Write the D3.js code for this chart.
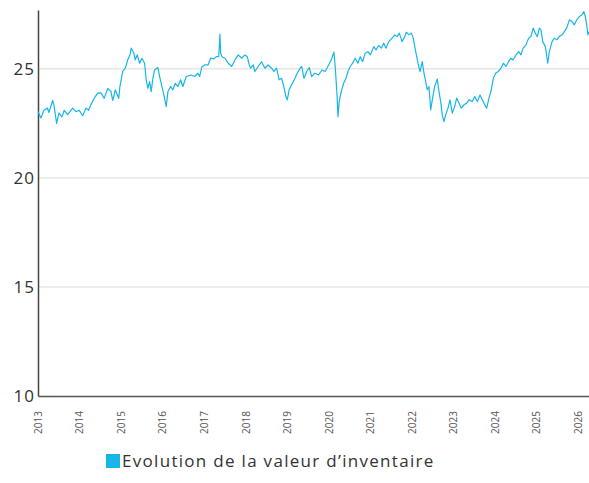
<!DOCTYPE html>
<html>
<head>
<meta charset="utf-8">
<script src="https://cdn.jsdelivr.net/npm/d3@7"></script>
<style>
  body { margin: 0; background: #fff; }
  text { font-family: "Open Sans", sans-serif; }
</style>
</head>
<body>
<script>
/* data */
var dates = [
  "2013-01-01","2013-01-27","2013-02-22","2013-03-26","2013-04-07","2013-05-10","2013-05-21","2013-06-14",
  "2013-07-04","2013-07-31","2013-08-20","2013-09-19","2013-11-02","2013-12-01","2013-12-30",
  "2014-01-29","2014-02-27","2014-03-22","2014-04-11","2014-05-11","2014-06-10","2014-07-08","2014-08-07",
  "2014-09-06","2014-10-05","2014-10-20","2014-11-12","2014-12-12","2014-12-23",
  "2015-01-16","2015-02-08","2015-03-01","2015-03-21","2015-04-01","2015-04-25","2015-05-06","2015-05-24",
  "2015-06-14","2015-07-04","2015-07-28","2015-08-11","2015-08-26","2015-09-10","2015-09-24","2015-10-09",
  "2015-10-24","2015-11-22","2015-12-07","2015-12-21",
  "2016-01-14","2016-02-03","2016-02-18","2016-03-13","2016-04-02","2016-04-22","2016-05-16","2016-06-09",
  "2016-06-29","2016-07-28","2016-09-10","2016-10-10","2016-11-08","2016-11-23","2016-12-13",
  "2017-01-07","2017-02-05","2017-02-28","2017-03-29","2017-04-18","2017-05-10","2017-05-21","2017-05-27",
  "2017-06-08","2017-07-04","2017-08-02","2017-09-01","2017-09-30","2017-10-29","2017-11-28","2017-12-27",
  "2018-01-16","2018-02-03","2018-02-15","2018-03-09","2018-03-24","2018-04-22","2018-05-22","2018-06-20",
  "2018-07-19","2018-08-18","2018-09-08","2018-10-01","2018-10-24","2018-11-14","2018-12-04","2018-12-22",
  "2019-01-03","2019-01-20","2019-02-11","2019-03-12","2019-04-01","2019-04-25","2019-05-10","2019-05-30",
  "2019-06-23","2019-07-16","2019-08-06","2019-08-26","2019-09-06","2019-10-06","2019-11-04","2019-12-03",
  "2020-01-02","2020-01-25","2020-02-18","2020-03-01","2020-03-16","2020-03-24","2020-04-04","2020-04-22",
  "2020-05-13","2020-06-03","2020-06-20","2020-07-10","2020-07-31","2020-08-23","2020-09-16","2020-10-06",
  "2020-10-27","2020-11-19","2020-12-13",
  "2021-01-03","2021-02-02","2021-02-22","2021-03-18","2021-04-10","2021-05-01","2021-05-21","2021-06-14",
  "2021-07-13","2021-08-06","2021-08-26","2021-09-15","2021-10-09","2021-11-02","2021-11-16","2021-12-10",
  "2021-12-30",
  "2022-01-16","2022-01-29","2022-02-15","2022-02-27","2022-03-16","2022-04-05","2022-04-20","2022-05-05",
  "2022-05-19","2022-06-03","2022-06-18","2022-07-02","2022-07-23","2022-08-15","2022-08-30","2022-09-14",
  "2022-09-28","2022-10-13","2022-10-28","2022-11-17","2022-12-05","2022-12-25",
  "2023-01-15","2023-02-02","2023-02-22","2023-03-14","2023-04-07","2023-05-01","2023-05-21","2023-06-19",
  "2023-07-10","2023-08-02","2023-08-26","2023-09-15","2023-10-06","2023-10-24","2023-11-13","2023-12-03",
  "2023-12-21",
  "2024-01-11","2024-02-03","2024-02-27","2024-03-18","2024-04-10","2024-05-04","2024-05-24","2024-06-13",
  "2024-07-07","2024-07-31","2024-08-20","2024-09-09","2024-10-03","2024-10-27","2024-11-16","2024-12-06",
  "2024-12-24",
  "2025-01-11","2025-01-29","2025-02-13","2025-02-28","2025-03-23","2025-04-13","2025-04-27","2025-05-21",
  "2025-06-10","2025-07-01","2025-07-24","2025-08-17","2025-09-06","2025-09-27","2025-10-20","2025-11-13",
  "2025-12-03","2025-12-24",
  "2026-01-16","2026-02-09","2026-02-24","2026-03-10","2026-03-22","2026-04-02","2026-04-11"
];
var values = [
  23.04,22.75,23.10,23.20,23.00,23.55,23.35,22.50,
  22.98,22.80,23.10,22.90,23.20,23.04,23.10,
  22.85,23.20,23.10,23.35,23.66,23.89,23.90,23.65,
  24.10,23.96,23.55,24.04,23.65,24.20,
  24.88,25.03,25.41,25.64,25.95,25.72,25.41,25.64,
  25.26,25.49,25.26,24.50,24.11,24.42,23.96,24.57,
  24.95,25.06,24.65,24.34,
  23.80,23.27,23.96,24.19,24.04,24.34,24.19,24.50,
  24.19,24.65,24.72,24.65,24.80,24.65,25.10,
  25.18,25.18,25.49,25.46,25.56,25.56,26.59,25.72,
  25.56,25.49,25.26,25.11,25.41,25.64,25.49,25.64,
  25.56,25.18,25.03,25.18,24.88,25.11,25.33,25.03,
  25.18,25.03,24.88,25.03,24.50,24.57,24.19,23.73,
  23.58,24.04,24.27,24.57,24.80,25.03,25.11,24.57,
  24.88,25.06,24.65,24.76,24.80,24.72,24.95,24.88,
  25.18,25.41,25.77,25.03,23.80,22.81,23.50,23.96,
  24.34,24.57,24.88,25.11,25.26,25.49,25.26,25.56,
  25.33,25.72,25.79,
  25.64,26.02,25.87,26.07,25.95,26.18,25.95,26.25,
  26.41,26.56,26.48,26.64,26.25,26.48,26.68,26.56,
  26.64,
  26.41,26.02,25.56,25.26,24.88,25.33,24.80,24.42,
  24.04,24.19,23.12,23.58,24.19,24.53,23.96,23.50,
  22.89,22.58,22.89,23.20,23.58,22.97,
  23.27,23.66,23.43,23.20,23.35,23.43,23.58,23.50,
  23.73,23.50,23.80,23.58,23.35,23.20,23.66,24.04,
  24.57,
  24.80,24.88,25.03,25.26,25.11,25.33,25.49,25.41,
  25.64,25.79,25.64,25.95,26.10,26.41,26.48,26.87,
  26.64,
  26.48,26.87,26.79,26.25,26.02,25.26,25.79,26.25,
  26.41,26.33,26.48,26.56,26.71,26.87,27.25,27.17,
  27.02,27.25,
  27.40,27.48,27.63,27.40,27.02,26.56,26.71
];
var yTicks = [10, 15, 20, 25];
var xTickYears = [2013, 2014, 2015, 2016, 2017, 2018, 2019, 2020, 2021, 2022, 2023, 2024, 2025, 2026];
var seriesName = "Evolution de la valeur d\u2019inventaire";

/* layout */
var width = 589, height = 483;
var margin = {top: 10, right: 0, bottom: 87, left: 38};
var lineColor = "#17b6e8";

var parse = d3.timeParse("%Y-%m-%d");
var data = dates.map(function(d, i){ return {date: parse(d), value: values[i]}; });

var svg = d3.select("body").append("svg")
    .attr("width", width)
    .attr("height", height);

var x = d3.scaleTime()
    .domain([parse("2013-01-01"), data[data.length - 1].date])
    .range([margin.left, width - margin.right]);

var y = d3.scaleLinear()
    .domain([10, 27.7])
    .range([height - margin.bottom, margin.top]);

/* grid lines */
svg.append("g")
    .selectAll("line")
    .data(yTicks.filter(function(t){ return t > 10; }))
    .enter().append("line")
    .attr("x1", margin.left)
    .attr("x2", width - margin.right)
    .attr("y1", function(d){ return y(d); })
    .attr("y2", function(d){ return y(d); })
    .attr("stroke", "#d9d9d9")
    .attr("stroke-width", 1);

/* y axis */
var yAxis = svg.append("g")
    .attr("transform", "translate(" + margin.left + ",0)")
    .call(d3.axisLeft(y).tickValues(yTicks).tickSize(0).tickPadding(3));
yAxis.select(".domain").attr("stroke", "#444").attr("stroke-width", 1.5);
yAxis.selectAll("text")
    .attr("font-size", 17)
    .attr("fill", "#333")
    .attr("letter-spacing", 1)
    .attr("font-family", "Open Sans, sans-serif");

/* x axis */
var xAxis = svg.append("g")
    .attr("transform", "translate(0," + (height - margin.bottom) + ")")
    .call(d3.axisBottom(x)
        .tickValues(xTickYears.map(function(yr){ return new Date(yr, 0, 1); }))
        .tickFormat(d3.timeFormat("%Y"))
        .tickSize(0));
xAxis.select(".domain").attr("stroke", "#555").attr("stroke-width", 1.5);
xAxis.selectAll("text")
    .attr("font-size", 10)
    .attr("fill", "#555")
    .attr("font-family", "Open Sans, sans-serif")
    .attr("text-anchor", "end")
    .attr("transform", "rotate(-90)")
    .attr("x", -15)
    .attr("y", 0)
    .attr("dy", "0.35em");

/* the line */
var line = d3.line()
    .x(function(d){ return x(d.date); })
    .y(function(d){ return y(d.value); });

svg.append("path")
    .datum(data)
    .attr("fill", "none")
    .attr("stroke", lineColor)
    .attr("stroke-width", 1.2)
    .attr("stroke-linejoin", "round")
    .attr("d", line);

/* legend */
var legend = svg.append("g").attr("transform", "translate(106,454)");
legend.append("rect")
    .attr("width", 14)
    .attr("height", 14)
    .attr("fill", lineColor);
legend.append("text")
    .attr("x", 16)
    .attr("y", 13)
    .attr("font-size", 17)
    .attr("fill", "#333")
    .attr("letter-spacing", 1.3)
    .text(seriesName);
</script>
</body>
</html>
